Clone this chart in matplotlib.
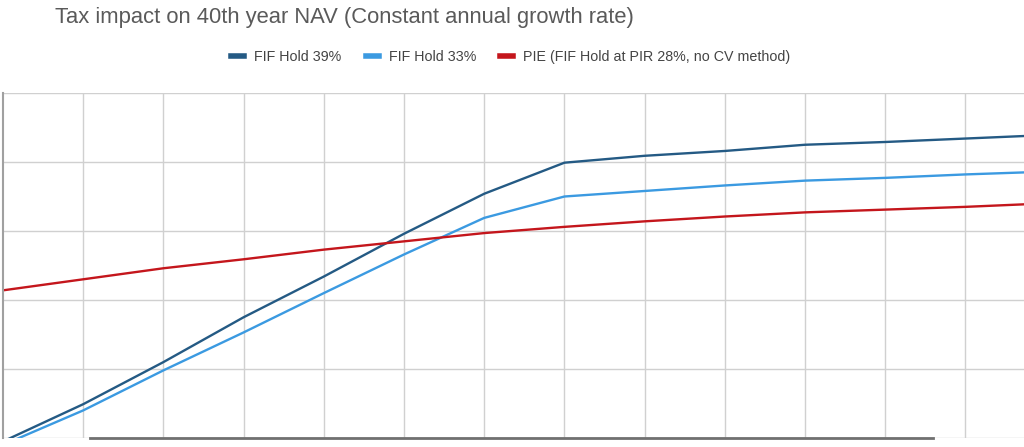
import matplotlib
matplotlib.use("Agg")
import matplotlib.pyplot as plt
import numpy as np

plt.rcParams['font.family'] = ['Liberation Sans', 'DejaVu Sans']

# values, in units of one gridline step (no axis labels shown)
periods = np.arange(14)
fif_39 = [-0.05, 0.49, 1.10, 1.75, 2.34, 2.96, 3.54, 3.99, 4.09, 4.16, 4.25, 4.29, 4.34, 4.39]
fif_33 = [-0.10, 0.40, 0.98, 1.53, 2.10, 2.66, 3.19, 3.50, 3.58, 3.66, 3.73, 3.77, 3.82, 3.86]
pie_28 = [2.14, 2.30, 2.46, 2.59, 2.73, 2.85, 2.97, 3.06, 3.14, 3.21, 3.27, 3.31, 3.35, 3.40]
labels = ['FIF Hold 39%', 'FIF Hold 33%', 'PIE (FIF Hold at PIR 28%, no CV method)']
colors = ['#245a84', '#3b9ae1', '#c4161c']

fig = plt.figure(figsize=(10.24, 4.47), dpi=100)
ax = fig.add_axes([3/1024, 9/447, 1021/1024, 345/447])

for vals, lab, col in zip([fif_39, fif_33, pie_28], labels, colors):
    ax.plot(periods, vals, color=col, lw=1.7, label=lab)

ax.set_xlim(0, 12.73)
ax.set_ylim(0, 5)
ax.set_xticks(np.arange(1, 13))
ax.set_yticks(np.arange(0, 6))
ax.grid(True, color='#d0d0d0', lw=1)
ax.tick_params(length=0, labelleft=False, labelbottom=False)
for s in ['top', 'right', 'bottom']:
    ax.spines[s].set_visible(False)
ax.spines['left'].set_color('#a0a0a0')
ax.spines['left'].set_linewidth(1.5)
ax.axhline(0, xmin=87/1021, xmax=930/1021, color='#707070', lw=2, clip_on=False)

fig.text(55/1024, 1 - 17/447, 'Tax impact on 40th year NAV (Constant annual growth rate)',
         fontsize=15.8, color='#5a5a5a', va='center', ha='left')

leg = fig.legend(loc='center', bbox_to_anchor=(511/1024, 1 - 57/447), ncol=3,
                 frameon=False, fontsize=10.3, handlelength=0.9, handletextpad=0.7,
                 columnspacing=1.7)
for h in leg.get_lines():
    h.set_linewidth(4)
for t in leg.get_texts():
    t.set_color('#444444')

fig.savefig('out.png', dpi=100)
